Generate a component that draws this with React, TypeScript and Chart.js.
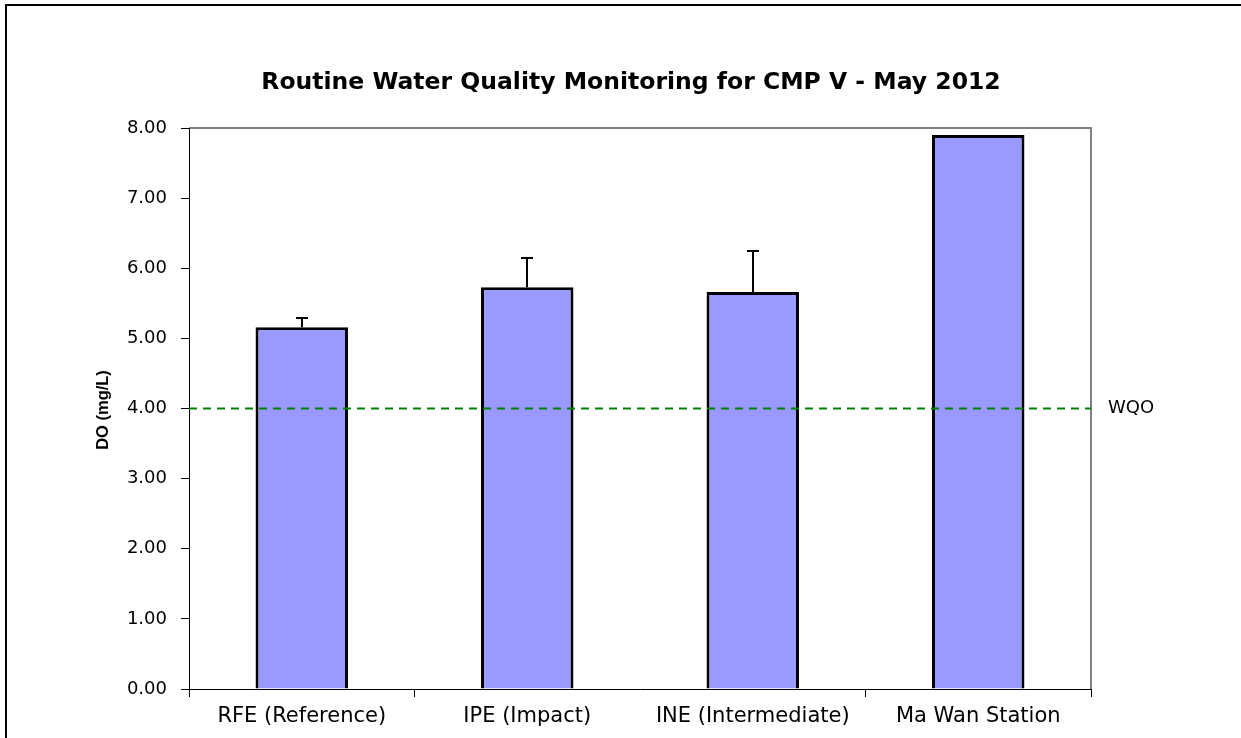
import React, { useEffect, useRef } from 'react';
import { Chart, registerables } from 'chart.js';

Chart.register(...registerables);

// ---- Data ----
const categories = ['RFE (Reference)', 'IPE (Impact)', 'INE (Intermediate)', 'Ma Wan Station'];
const doValues = [5.16, 5.73, 5.66, 7.9];
const doErrors = [0.13, 0.41, 0.58, 0];
const wqoValue = 4.0;
const yMin = 0;
const yMax = 8;
const yStep = 1;
const chartTitle = 'Routine Water Quality Monitoring for CMP V - May 2012';
const yAxisTitle = 'DO (mg/L)';
const wqoLabel = 'WQO';

const W = 1241;
const H = 738;

const customPlugin = {
  id: 'customDecor',
  beforeDraw(chart: any) {
    const ctx = chart.ctx;
    const a = chart.chartArea;
    ctx.save();
    ctx.fillStyle = '#ffffff';
    ctx.fillRect(0, 0, chart.width, chart.height);
    // outer frame
    ctx.strokeStyle = '#000000';
    ctx.lineWidth = 2;
    ctx.beginPath();
    ctx.moveTo(6, chart.height + 4);
    ctx.lineTo(6, 5);
    ctx.lineTo(chart.width + 4, 5);
    ctx.stroke();
    // plot area border (grey)
    ctx.strokeStyle = '#808080';
    ctx.lineWidth = 2;
    ctx.beginPath();
    ctx.moveTo(a.left, a.top);
    ctx.lineTo(a.right, a.top);
    ctx.lineTo(a.right, a.bottom);
    ctx.stroke();
    ctx.restore();
  },
  afterDatasetsDraw(chart: any) {
    const ctx = chart.ctx;
    const a = chart.chartArea;
    const yScale = chart.scales.y;
    ctx.save();
    // WQO line
    const yw = yScale.getPixelForValue(wqoValue);
    ctx.strokeStyle = '#008000';
    ctx.lineWidth = 2;
    ctx.setLineDash([8, 6]);
    ctx.beginPath();
    ctx.moveTo(a.left, yw);
    ctx.lineTo(a.right, yw);
    ctx.stroke();
    ctx.setLineDash([]);
    // error bars
    const meta = chart.getDatasetMeta(0);
    ctx.strokeStyle = '#000000';
    ctx.lineWidth = 2;
    meta.data.forEach((bar: any, i: number) => {
      const err = doErrors[i];
      if (!err) return;
      const x = Math.round(bar.x);
      const yTop = Math.round(yScale.getPixelForValue(doValues[i] + err));
      const yBase = bar.y;
      ctx.beginPath();
      ctx.moveTo(x, yBase);
      ctx.lineTo(x, yTop);
      ctx.moveTo(x - 6, yTop);
      ctx.lineTo(x + 6, yTop);
      ctx.stroke();
    });
    ctx.restore();
  },
  afterDraw(chart: any) {
    const ctx = chart.ctx;
    const yScale = chart.scales.y;
    ctx.save();
    ctx.fillStyle = '#000000';
    // title
    ctx.font = 'bold 23.5px "DejaVu Sans"';
    ctx.textAlign = 'center';
    ctx.textBaseline = 'alphabetic';
    ctx.fillText(chartTitle, 631, 89);
    // y axis title
    ctx.save();
    ctx.translate(103, 410);
    ctx.rotate(-Math.PI / 2);
    ctx.font = 'bold 16.5px "Liberation Sans"';
    ctx.textAlign = 'center';
    ctx.textBaseline = 'middle';
    ctx.fillText(yAxisTitle, 0, 0);
    ctx.restore();
    // WQO label
    ctx.font = '18px "DejaVu Sans"';
    ctx.textAlign = 'left';
    ctx.textBaseline = 'middle';
    ctx.fillText(wqoLabel, 1108, yScale.getPixelForValue(wqoValue));
    ctx.restore();
  },
};

export default function App() {
  const canvasRef = useRef<HTMLCanvasElement | null>(null);

  useEffect(() => {
    if (!canvasRef.current) return;
    const chart = new Chart(canvasRef.current, {
      type: 'bar',
      data: {
        labels: categories,
        datasets: [
          {
            label: 'DO',
            data: doValues,
            backgroundColor: '#9999FF',
            borderColor: '#000000',
            borderWidth: 3,
            categoryPercentage: 1,
            barPercentage: 0.41,
          },
        ],
      },
      options: {
        responsive: false,
        animation: false,
        devicePixelRatio: 1,
        layout: { padding: { top: 128, right: 150, bottom: 0, left: 0 } },
        plugins: {
          legend: { display: false },
          title: { display: false },
          tooltip: { enabled: false },
        },
        scales: {
          x: {
            type: 'category',
            offset: true,
            grid: {
              display: true,
              offset: true,
              drawOnChartArea: false,
              drawTicks: true,
              tickLength: 8,
              color: (c: any) => (c.index === 2 ? 'rgba(0,0,0,0)' : '#000000'),
            },
            border: { display: true, color: '#000000', width: 1 },
            ticks: {
              color: '#000000',
              font: { family: '"DejaVu Sans"', size: 21 },
              padding: 7,
              maxRotation: 0,
              autoSkip: false,
            },
            afterFit: (s: any) => {
              s.height = 49;
            },
          },
          y: {
            min: yMin,
            max: yMax,
            grid: {
              display: true,
              drawOnChartArea: false,
              drawTicks: true,
              tickLength: 8,
              color: '#000000',
            },
            border: { display: true, color: '#000000', width: 1 },
            ticks: {
              stepSize: yStep,
              color: '#000000',
              font: { family: '"DejaVu Sans"', size: 18 },
              padding: 14,
              callback: (v: any) => Number(v).toFixed(2),
            },
            afterFit: (s: any) => {
              s.width = 189;
            },
          },
        },
      },
      plugins: [customPlugin],
    });
    return () => chart.destroy();
  }, []);

  return (
    <div style={{ position: 'absolute', left: 0, top: 0, width: W, height: H, overflow: 'hidden', background: '#fff' }}>
      <canvas ref={canvasRef} width={W} height={H} style={{ display: 'block', width: W, height: H }} />
    </div>
  );
}
